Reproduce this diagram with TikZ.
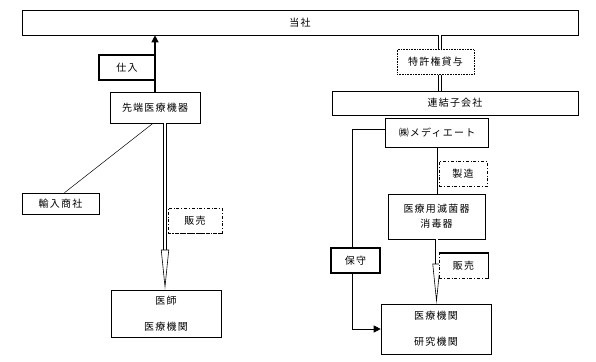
\documentclass[tikz,border=0pt]{standalone}
\usepackage{fontspec}
\usepackage{tikz}
\usetikzlibrary{arrows.meta, positioning, calc}
\newfontfamily\jpfont[LetterSpace=12]{Noto Sans CJK JP}
\tikzset{
  blk/.style={rectangle, draw=black, line width=0.6pt, fill=white, align=center, font=\fontsize{10}{26}\jpfont, inner sep=2pt},
  tag/.style={blk, minimum height=25pt},
  tagdot/.style={tag, densely dotted, line width=0.8pt},
  tagdash/.style={tag, dash dot, line width=0.7pt},
  tagbold/.style={tag, line width=1.4pt},
  edge/.style={line width=1.4pt},
  arr/.style={-{Triangle[length=7pt, width=7pt]}, line width=1.2pt},
  dbl/.style={double, double distance=2pt, line width=0.6pt},
  dblarr/.style={dbl, -{Triangle[open, length=40pt, width=8pt]}},
}

\begin{document}
\begin{tikzpicture}[x=1pt, y=-1pt]
  \useasboundingbox (0,0) rectangle (596,361);
  \node[blk, minimum width=556pt, minimum height=25pt] (tosha) at (300,22.5) {当社};
  % left side
  \node[blk, minimum width=90pt, minimum height=31pt] (sentan) at (155,107.5) {先端医療機器};
  \node[blk, minimum width=77pt, minimum height=21pt] (yunyu) at (60.5,203.5) {輸入商社};
  \node[blk, minimum width=110pt, minimum height=47pt] (ishi) at (166,313.5) {医師\\医療機関};
  \draw[arr] (sentan.north) -- (sentan.north |- tosha.south);
  \node[tagbold, minimum width=56pt] (shiire) at (127,67.5) {仕入};
  \draw[line width=0.5pt] ([xshift=-2pt]sentan.south) -- ([xshift=4pt]yunyu.north);
  \draw[dblarr] ([xshift=10pt]sentan.south) -- ([xshift=10pt]sentan.south |- ishi.north);
  \node[tagdash, minimum width=54pt] (hanbai_l) at (195,220.5) {販売};
  \draw[edge, densely dotted] (hanbai_l.south west) -- (hanbai_l.south east);
  % right side
  \node[blk, minimum width=246pt, minimum height=24pt] (renketsu) at (455,103) {連結子会社};
  \node[blk, minimum width=103pt, minimum height=29pt] (mediate) at (437,133) {㈱メディエート};
  \node[blk, minimum width=97pt, minimum height=45pt, font=\fontsize{10}{15}\jpfont] (mekkin) at (436.5,216.5) {医療用滅菌器\\消毒器};
  \node[blk, minimum width=110pt, minimum height=50pt] (kikan) at (436,329) {医療機関\\研究機関};
  \draw[dbl] (tosha.south -| 440,0) -- (renketsu.north -| 440,0);
  \node[tagdot, minimum width=77pt] (tokkyo) at (435.5,62) {特許権貸与};
  \draw[line width=0.6pt] (mediate.south) -- (mediate.south |- mekkin.north);
  \node[tagdash, minimum width=48pt] (seizo) at (463,174) {製造};
  \draw[dblarr] (mekkin.south) -- (mekkin.south |- kikan.north);
  \node[tagdash, minimum width=49pt] (hanbai_r) at (463.5,266) {販売};
  \draw[edge] (hanbai_r.north west) -- (hanbai_r.north east) -- (hanbai_r.south east);
  \draw[arr, line width=0.6pt] ([yshift=4pt]mediate.west) -- ++(-33,0) |- (kikan.west);
  \node[tagbold, minimum width=49pt] (hoshu) at (355.5,260.5) {保守};
\end{tikzpicture}
\end{document}
